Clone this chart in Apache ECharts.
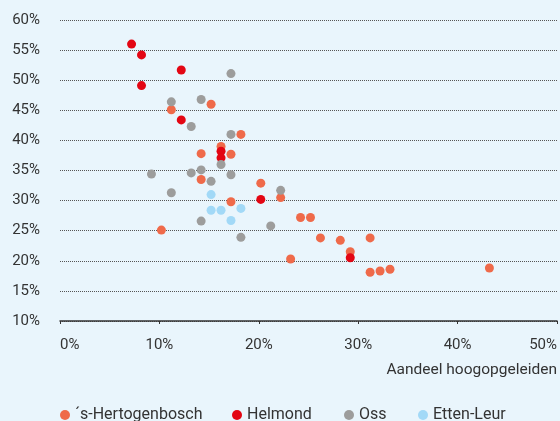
<!DOCTYPE html>
<html>
<head>
<meta charset="utf-8">
<script src="https://cdn.jsdelivr.net/npm/echarts@6/dist/echarts.min.js"></script>
<style>
html,body{margin:0;padding:0;background:#E9F5FC;}
#chart{width:560px;height:421px;}
</style>
</head>
<body>
<div id="chart"></div>
<script>
var seriesNames = ['\u00b4s-Hertogenbosch', 'Helmond', 'Oss', 'Etten-Leur'];
var seriesColors = ['#EF6A4A', '#E30613', '#9D9D9C', '#A2D9F7'];
var xTicks = [0, 10, 20, 30, 40, 50];
var yTicks = [10, 15, 20, 25, 30, 35, 40, 45, 50, 55, 60];

var hertogenbosch = [
  [11.2, 45.1], [15.2, 46.0], [18.2, 41.0], [16.2, 39.0], [14.2, 37.8], [17.2, 37.7],
  [14.2, 33.5], [17.2, 29.8], [10.2, 25.1], [20.2, 32.9], [22.2, 30.5], [24.2, 27.2],
  [25.2, 27.2], [26.2, 23.8], [28.2, 23.4], [31.2, 23.8], [23.2, 20.3], [29.2, 21.5],
  [31.2, 18.1], [32.2, 18.3], [33.2, 18.6], [43.2, 18.8]
];
var helmond = [
  [7.2, 56.0], [8.2, 54.2], [12.2, 51.7], [8.2, 49.1], [12.2, 43.4], [16.2, 38.2],
  [16.2, 37.1], [20.2, 30.2], [29.2, 20.5]
];
var oss = [
  [17.2, 51.1], [11.2, 46.4], [14.2, 46.8], [13.2, 42.3], [17.2, 41.0], [16.2, 36.0],
  [9.2, 34.4], [13.2, 34.6], [14.2, 35.1], [15.2, 33.2], [17.2, 34.3], [11.2, 31.3],
  [14.2, 26.6], [18.2, 23.9], [22.2, 31.7], [21.2, 25.8]
];
var ettenLeur = [
  [15.2, 31.0], [15.2, 28.4], [16.2, 28.4], [17.2, 26.7], [18.2, 28.7]
];
var allData = [hertogenbosch, helmond, oss, ettenLeur];

var FONT = 'Roboto';
var TXT = '#333333';
var legendLefts = [55, 227, 339, 413];
var chart = echarts.init(document.getElementById('chart'), null, {renderer: 'canvas'});
chart.setOption({
  backgroundColor: '#E9F5FC',
  animation: false,
  textStyle: {fontFamily: FONT},
  grid: {left: 60, right: 2, top: 20, bottom: 100, containLabel: false},
  legend: seriesNames.map(function (n, i) {
    return {
      left: legendLefts[i], top: 402,
      itemWidth: 10, itemHeight: 10,
      icon: 'circle',
      textStyle: {color: TXT, fontSize: 16, fontFamily: FONT},
      data: [n]
    };
  }),
  xAxis: {
    type: 'value', min: xTicks[0], max: xTicks[xTicks.length - 1], interval: 10,
    name: 'Aandeel hoogopgeleiden', nameLocation: 'end', nameGap: 0,
    nameTextStyle: {align: 'right', verticalAlign: 'top', color: TXT, fontSize: 15.5, padding: [41, 0, 0, 0]},
    axisLine: {show: true, lineStyle: {color: '#333', width: 1.5}},
    axisTick: {show: true, length: 3, lineStyle: {color: '#333'}},
    axisLabel: {formatter: '{value}%', color: TXT, fontSize: 15, margin: 17, alignMinLabel: 'left', alignMaxLabel: 'right'},
    splitLine: {show: false}
  },
  yAxis: {
    type: 'value', min: yTicks[0], max: yTicks[yTicks.length - 1], interval: 5,
    axisLine: {show: false}, axisTick: {show: false},
    axisLabel: {formatter: '{value}%', color: TXT, fontSize: 15, margin: 20},
    splitLine: {show: true, lineStyle: {color: '#555', type: [1, 1], width: 1}}
  },
  series: seriesNames.map(function (n, i) {
    return {
      name: n, type: 'scatter', data: allData[i], symbolSize: 9,
      itemStyle: {color: seriesColors[i], opacity: 1}
    };
  })
});
</script>
</body>
</html>
